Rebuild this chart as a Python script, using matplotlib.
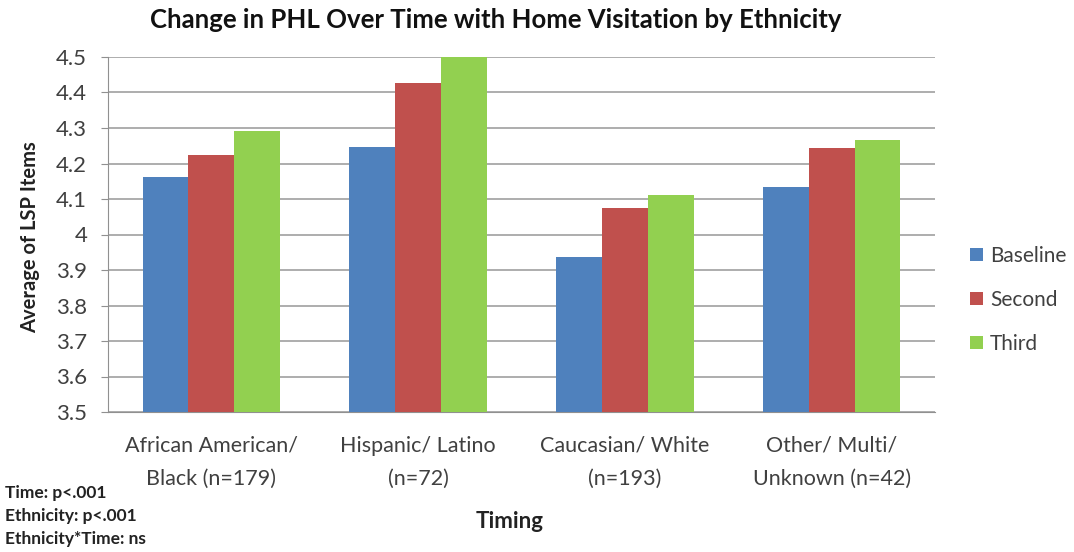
import matplotlib
matplotlib.use("Agg")
import matplotlib.pyplot as plt
import numpy as np

categories = ["African American/\nBlack (n=179)", "Hispanic/ Latino\n(n=72)",
              "Caucasian/ White\n(n=193)", "Other/ Multi/\nUnknown (n=42)"]
series_names = ["Baseline", "Second", "Third"]
baseline = [4.161, 4.246, 3.936, 4.135]
second = [4.224, 4.427, 4.076, 4.244]
third = [4.292, 4.50, 4.111, 4.265]
yticks = [3.5, 3.6, 3.7, 3.8, 3.9, 4.0, 4.1, 4.2, 4.3, 4.4, 4.5]
ytick_labels = ["3.5", "3.6", "3.7", "3.8", "3.9", "4", "4.1", "4.2", "4.3", "4.4", "4.5"]
colors = ["#4F81BD", "#C0504D", "#92D050"]

plt.rcParams['font.family'] = ['Lato', 'DejaVu Sans']

fig = plt.figure(figsize=(10.74, 5.52), dpi=100)
ax = fig.add_axes([108/1074, 1-412/552, (935-108)/1074, (412-57)/552])

x = np.arange(len(categories))
w = 0.222
for i, (vals, name) in enumerate(zip([baseline, second, third], series_names)):
    ax.bar(x + (i-1)*w, vals, w, color=colors[i], label=name, zorder=3)

ax.set_xlim(-0.5, 3.5)
ax.set_ylim(3.5, 4.5)
ax.set_yticks(yticks)
ax.set_yticklabels(ytick_labels, fontsize=16, color="#404040")
ax.set_xticks(x)
ax.set_xticklabels(categories, fontsize=15.5, color="#404040", linespacing=1.85)
ax.tick_params(axis='x', length=0, pad=17)
ax.tick_params(axis='y', length=5, color="#909090", pad=10)
ax.yaxis.grid(True, color="#A0A0A0", linewidth=1.2, zorder=0)
for s in ["top", "right"]:
    ax.spines[s].set_visible(False)
ax.spines["left"].set_color("#909090")
ax.spines["bottom"].set_color("#909090")

fig.text(30/1074, 1-237/552, "Average of LSP Items", fontsize=14.5, fontweight="bold",
         rotation=90, ha="center", va="center", color="#222222")
fig.text(510/1074, 1-522/552, "Timing", fontsize=16, fontweight="bold", ha="center", va="center", color="#222222")
fig.text(496/1074, 1-20/552, "Change in PHL Over Time with Home Visitation by Ethnicity",
         fontsize=18.5, fontweight="bold", ha="center", va="center", color="#111111")

notes = ["Time: p<.001", "Ethnicity: p<.001", "Ethnicity*Time: ns"]
for k, t in enumerate(notes):
    fig.text(5/1074, 1-(493+23*k)/552, t, fontsize=12.5, fontweight="bold", ha="left", va="center", color="#222222")

fig.legend(loc="center left", bbox_to_anchor=(970/1074, 1-300/552), frameon=False,
           fontsize=15, handlelength=0.6, handleheight=0.6, handletextpad=0.35,
           labelspacing=1.15, labelcolor="#404040", borderpad=0, borderaxespad=0)

fig.savefig("out.png", dpi=100)
